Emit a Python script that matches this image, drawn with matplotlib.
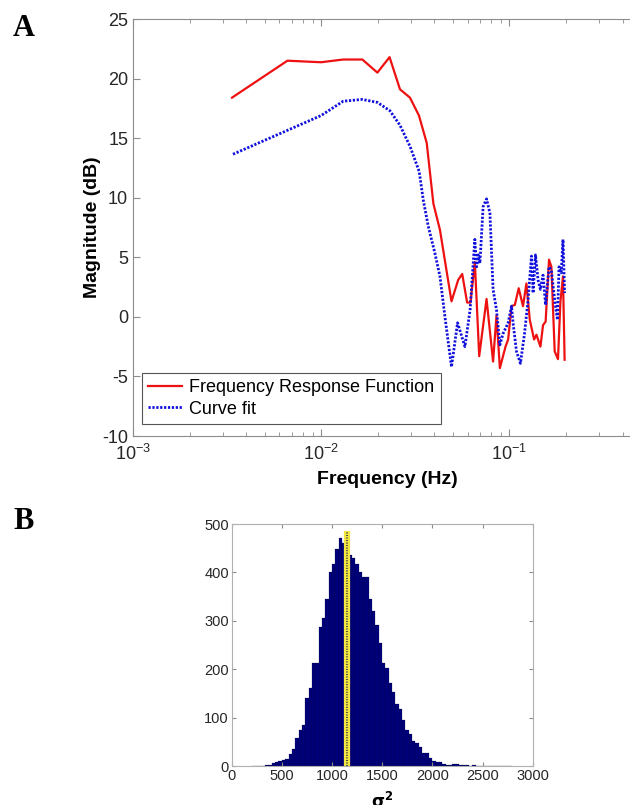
import matplotlib
matplotlib.use('Agg')
import matplotlib.pyplot as plt
import numpy as np

plt.rcParams['font.family'] = ['Liberation Sans', 'DejaVu Sans']
plt.rcParams['mathtext.default'] = 'regular'
plt.rcParams['axes.unicode_minus'] = False

# --- panel A: frequency response (Hz, dB) ---
frf_freq = [0.00336, 0.00662, 0.00999, 0.0131, 0.01656, 0.0199, 0.0231, 0.02624,
            0.02965, 0.0331, 0.0364, 0.0395, 0.0428, 0.0493, 0.0535, 0.0562,
            0.0597, 0.0622, 0.0656, 0.0692, 0.0757, 0.082, 0.0855, 0.0891,
            0.0955, 0.0986, 0.1028, 0.107, 0.1122, 0.1183, 0.1233, 0.1285,
            0.1355, 0.1394, 0.1464, 0.1511, 0.156, 0.1626, 0.1674, 0.1743,
            0.1815, 0.187, 0.1929, 0.1968]
frf_mag = [18.4, 21.5, 21.37, 21.6, 21.6, 20.5, 21.8, 19.1,
           18.4, 16.9, 14.6, 9.5, 7.3, 1.3, 3.1, 3.6,
           1.2, 1.2, 4.6, -3.3, 1.5, -3.75, 0.1, -4.3,
           -2.5, -1.9, 0.9, 1.0, 2.4, 0.9, 2.8, -0.25,
           -1.9, -1.5, -2.5, -0.7, -0.4, 4.8, 4.2, -2.9,
           -3.55, 1.3, 3.4, -3.6]

fit_freq = [0.0034, 0.01, 0.0131, 0.01656, 0.0199, 0.0232, 0.0262, 0.0297,
            0.0332, 0.0349, 0.0371, 0.0403, 0.0428, 0.0455, 0.0493, 0.0531,
            0.0581, 0.0619, 0.0643, 0.0656, 0.067, 0.0683, 0.0698, 0.0726,
            0.0757, 0.0789, 0.082, 0.0855, 0.0891, 0.0927, 0.0986, 0.1028,
            0.1047, 0.1092, 0.1146, 0.1205, 0.1258, 0.1312, 0.1338, 0.1378,
            0.1422, 0.1464, 0.1511, 0.156, 0.1626, 0.1674, 0.1743, 0.1803,
            0.1838, 0.1889, 0.1929, 0.1968]
fit_mag = [13.65, 16.9, 18.1, 18.25, 18.0, 17.3, 16.1, 14.3,
           12.2, 9.8, 7.6, 5.3, 3.4, 0.0, -4.2, -0.5,
           -2.5, 0.6, 4.5, 6.5, 4.2, 5.2, 4.5, 9.25,
           9.9, 8.7, 2.3, 0.6, -2.35, -1.4, -0.5, 0.9,
           -0.5, -2.9, -3.9, -1.4, 1.4, 5.1, 2.0, 5.2,
           3.1, 2.3, 3.5, 1.0, 4.2, 3.9, 1.4, -0.25,
           4.2, 3.7, 6.5, 2.0]

# --- panel B: histogram of sigma_s^2 ---
hist_start = 200
hist_width = 33.3
hist_counts = [0, 1, 0, 1, 3, 3, 7, 9, 10, 12, 15, 24, 36, 57, 75, 85,
               141, 162, 212, 212, 288, 305, 346, 401, 417, 448, 472, 460,
               452, 436, 429, 417, 401, 391, 390, 345, 320, 291, 255, 212,
               203, 171, 152, 128, 117, 95, 74, 67, 52, 47, 40, 26, 26, 16,
               11, 9, 8, 5, 3, 2, 4, 4, 3, 3, 2, 1, 2, 1, 0, 1, 1, 0, 1, 0,
               1, 0, 0, 1]
marker_value = 1150
marker_top = 485

W, H = 630, 805
fig = plt.figure(figsize=(W / 100, H / 100), dpi=100)
spine_col = '#8c8c8c'
tick_col = '#262626'

# panel A
ax = fig.add_axes([133 / W, 1 - 436 / H, (640.8 - 133) / W, 417 / H])
ax.plot(frf_freq, frf_mag, color='#ee1111', lw=1.6, label='Frequency Response Function')
ax.plot(fit_freq, fit_mag, color='#1010dd', lw=2.0, linestyle=(0, (0.8, 0.6)),
        label='Curve fit')
ax.set_xscale('log')
ax.set_xlim(1e-3, 0.5)
ax.set_ylim(-10, 25)
ax.set_yticks(np.arange(-10, 26, 5))
ax.set_xlabel('Frequency (Hz)', fontsize=14, fontweight='bold', labelpad=5)
ax.set_ylabel('Magnitude (dB)', fontsize=14, fontweight='bold', labelpad=1)
ax.tick_params(which='both', direction='in', top=True, right=True,
               labelsize=13, colors=spine_col, labelcolor=tick_col)
ax.tick_params(axis='x', pad=6)
ax.tick_params(which='major', length=5)
ax.tick_params(which='minor', length=3)
for s in ax.spines.values():
    s.set_color(spine_col)
    s.set_linewidth(0.8)
leg = ax.legend(loc='lower left', bbox_to_anchor=(0.017, 0.029), borderaxespad=0,
                fontsize=13, fancybox=False, framealpha=1, edgecolor='#555555',
                handlelength=1.9, handletextpad=0.4, labelspacing=0.25, borderpad=0.35)
leg.get_frame().set_linewidth(0.8)

# panel B
bx = fig.add_axes([231.7 / W, 1 - 766 / H, 301 / W, 242 / H])
edges = hist_start + hist_width * np.arange(len(hist_counts))
bx.bar(edges, hist_counts, width=hist_width, align='edge', color='#00007a',
       edgecolor='#000033', linewidth=0.15)
bx.plot([marker_value, marker_value], [0, marker_top], color='#f2e640', lw=4.5,
        solid_capstyle='butt')
bx.plot([marker_value, marker_value], [0, marker_top], color='#444444', lw=1.4,
        linestyle=(0, (0.5, 0.8)))
bx.set_xlim(0, 3000)
bx.set_ylim(0, 500)
bx.set_xticks(np.arange(0, 3001, 500))
bx.set_yticks(np.arange(0, 501, 100))
bx.tick_params(which='both', direction='in', top=True, right=True, length=3,
               labelsize=10.5, colors=spine_col, labelcolor=tick_col, pad=2)
for s in bx.spines.values():
    s.set_color('#b0b0b0')
    s.set_linewidth(0.8)
bx.set_xlabel(r'$\mathbf{\sigma_s^2}$', fontsize=12, labelpad=5)

fig.text(13 / W, 1 - 36 / H, 'A', fontsize=22, fontweight='bold',
         family='Liberation Serif', va='baseline')
fig.text(13 / W, 1 - 529 / H, 'B', fontsize=22, fontweight='bold',
         family='Liberation Serif', va='baseline')

fig.savefig('out.png', dpi=100)
